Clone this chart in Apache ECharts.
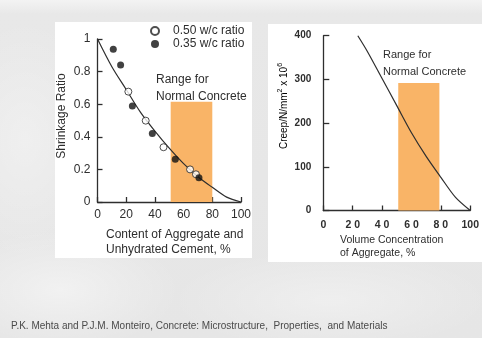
<!DOCTYPE html>
<html>
<head>
<meta charset="utf-8">
<script src="https://cdn.jsdelivr.net/npm/echarts@6/dist/echarts.min.js"></script>
<style>
  html, body { margin: 0; padding: 0; width: 482px; height: 338px; overflow: hidden; }
  body {
    background:
      radial-gradient(ellipse 120px 60px at 60px 290px, rgba(255,255,255,0.45), rgba(255,255,255,0)),
      radial-gradient(ellipse 160px 50px at 330px 300px, rgba(255,255,255,0.35), rgba(255,255,255,0)),
      radial-gradient(ellipse 80px 120px at 25px 140px, rgba(255,255,255,0.35), rgba(255,255,255,0)),
      linear-gradient(to bottom, #f3f3f3 0px, #e8e8e8 14px, #e6e6e6 100%);
  }
  #chart { width: 482px; height: 338px; }
</style>
</head>
<body>
<div id="chart"></div>
<script>
// Shrinkage of concrete vs. aggregate content
const shrinkCurveX = [0, 10, 20, 30, 40, 50, 60, 70, 80, 90, 100];
const shrinkCurveY = [1.0, 0.83, 0.69, 0.55, 0.435, 0.33, 0.235, 0.155, 0.09, 0.03, 0];
const wc050X = [21.5, 33.6, 46.0, 64.5, 68.6];
const wc050Y = [0.677, 0.499, 0.336, 0.20, 0.17];
const wc035X = [11.0, 16.1, 24.3, 38.2, 54.2, 70.7];
const wc035Y = [0.937, 0.84, 0.589, 0.421, 0.262, 0.149];
const shrinkRangeX = [51, 80];
const shrinkRangeTop = 0.615;
const shrinkXTicks = ['0', '20', '40', '60', '80', '100'];
const shrinkYTicks = ['0', '0.2', '0.4', '0.6', '0.8', '1'];

// Creep vs. volume concentration of aggregate
const creepCurveX = [23.5, 30, 40, 50, 60, 70, 80, 90, 100];
const creepCurveY = [400, 364, 302, 240, 178, 124, 76, 30, 0];
const creepRangeX = [51, 79];
const creepRangeTop = 292;
const creepXTicks = ['0', '2 0', '4 0', '6 0', '8 0', '100'];
const creepYTicks = ['0', '100', '200', '300', '400'];

const FONT = "'Liberation Sans', Arial, sans-serif";
const INK = '#2e2e2e';
const RANGE_COLOR = '#f9b467';

const zip = (xs, ys) => xs.map((x, i) => [x, ys[i]]);

const chart = echarts.init(document.getElementById('chart'), null, { renderer: 'canvas' });

const axisCommon = {
  axisLine: { show: true, lineStyle: { color: INK, width: 1.3 } },
  axisTick: { show: true, inside: true, length: 5, lineStyle: { color: INK, width: 1.3 } },
  splitLine: { show: false }
};

const option = {
  backgroundColor: 'transparent',
  animation: false,
  textStyle: { fontFamily: FONT },
  graphic: [
    { type: 'rect', z: -100, shape: { x: 55, y: 22, width: 197, height: 236 }, style: { fill: '#ffffff' } },
    { type: 'rect', z: -100, shape: { x: 268, y: 24, width: 214, height: 238 }, style: { fill: '#ffffff' } },
    { type: 'text', x: 156, y: 71, style: { text: 'Range for\nNormal Concrete', font: '12px ' + FONT, fill: INK, lineHeight: 17 } },
    { type: 'text', x: 383, y: 47, style: { text: 'Range for\nNormal Concrete', font: '11px ' + FONT, fill: INK, lineHeight: 16.5 } },
    { type: 'text', x: 106, y: 227, style: { text: 'Content of Aggregate and\nUnhydrated Cement, %', font: '12px ' + FONT, fill: INK, lineHeight: 15 } },
    { type: 'text', x: 340, y: 233, style: { text: 'Volume Concentration\nof Aggregate, %', font: '10.5px ' + FONT, fill: INK, lineHeight: 13.5 } },
    { type: 'text', x: 62, y: 116, rotation: Math.PI / 2,
      style: { text: 'Shrinkage Ratio', font: '12px ' + FONT, fill: INK, align: 'center', verticalAlign: 'middle' } },
    { type: 'text', x: 283, y: 106, rotation: Math.PI / 2,
      style: {
        text: '{a|Creep/N/mm}{s|2}{a| x 10}{s|6}',
        align: 'center', verticalAlign: 'middle',
        rich: {
          a: { fontSize: 10, fontFamily: FONT, color: INK, lineHeight: 13, verticalAlign: 'bottom' },
          s: { fontSize: 7, fontFamily: FONT, color: INK, lineHeight: 13, verticalAlign: 'top' }
        }
      } },
    { type: 'text', x: 11, y: 321,
      style: { text: 'P.K. Mehta and P.J.M. Monteiro, Concrete: Microstructure,  Properties,  and Materials',
               font: '10px ' + FONT, fill: '#4a4a4a' } }
  ],
  legend: {
    left: 145, top: 20, orient: 'vertical', itemGap: 1,
    itemWidth: 8, itemHeight: 8,
    textStyle: { fontSize: 12, color: INK, fontFamily: FONT, padding: [0, 0, 0, 9] },
    data: ['0.50 w/c ratio', '0.35 w/c ratio']
  },
  grid: [
    { left: 97.5, top: 39, width: 143.5, height: 163 },
    { left: 323.3, top: 35.7, width: 153.5, height: 174.8 }
  ],
  xAxis: [
    Object.assign({}, axisCommon, {
      gridIndex: 0, type: 'value', min: 0, max: 100, interval: 20,
      axisLabel: { margin: 7, fontSize: 12, color: INK, fontFamily: FONT,
                   formatter: (v) => shrinkXTicks[Math.round(v / 20)] }
    }),
    Object.assign({}, axisCommon, {
      gridIndex: 1, type: 'value', min: 0, max: 100, interval: 20,
      axisLabel: { margin: 9, fontSize: 10.5, fontWeight: 'bold', color: INK, fontFamily: FONT,
                   formatter: (v) => creepXTicks[Math.round(v / 20)] }
    })
  ],
  yAxis: [
    Object.assign({}, axisCommon, {
      gridIndex: 0, type: 'value', min: 0, max: 1, interval: 0.2,
      axisLabel: { margin: 7, fontSize: 12, color: INK, fontFamily: FONT,
                   formatter: (v) => shrinkYTicks[Math.round(v / 0.2)] }
    }),
    Object.assign({}, axisCommon, {
      gridIndex: 1, type: 'value', min: 0, max: 400, interval: 100,
      axisTick: { show: true, inside: true, length: 6, lineStyle: { color: INK, width: 1.3 } },
      axisLabel: { margin: 12, fontSize: 10, fontWeight: 'bold', color: INK, fontFamily: FONT,
                   formatter: (v) => creepYTicks[Math.round(v / 100)] }
    })
  ],
  series: [
    {
      type: 'line', xAxisIndex: 0, yAxisIndex: 0, data: [], z: 1, silent: true,
      markArea: { silent: true, itemStyle: { color: RANGE_COLOR, opacity: 1 },
        data: [[{ coord: [shrinkRangeX[0], 0] }, { coord: [shrinkRangeX[1], shrinkRangeTop] }]] }
    },
    {
      type: 'line', xAxisIndex: 0, yAxisIndex: 0, z: 3,
      data: zip(shrinkCurveX, shrinkCurveY), smooth: 0.3, showSymbol: false,
      lineStyle: { color: INK, width: 1.2 }
    },
    {
      name: '0.50 w/c ratio', type: 'scatter', xAxisIndex: 0, yAxisIndex: 0, z: 4,
      data: zip(wc050X, wc050Y), symbol: 'circle', symbolSize: 7,
      itemStyle: { color: '#ffffff', borderColor: '#222', borderWidth: 1 }
    },
    {
      name: '0.35 w/c ratio', type: 'scatter', xAxisIndex: 0, yAxisIndex: 0, z: 4,
      data: zip(wc035X, wc035Y), symbol: 'circle', symbolSize: 7,
      itemStyle: { color: '#111111' }
    },
    {
      type: 'line', xAxisIndex: 1, yAxisIndex: 1, data: [], z: 1, silent: true,
      markArea: { silent: true, itemStyle: { color: RANGE_COLOR, opacity: 1 },
        data: [[{ coord: [creepRangeX[0], 0] }, { coord: [creepRangeX[1], creepRangeTop] }]] }
    },
    {
      type: 'line', xAxisIndex: 1, yAxisIndex: 1, z: 3,
      data: zip(creepCurveX, creepCurveY), smooth: 0.3, showSymbol: false,
      lineStyle: { color: INK, width: 1.2 }
    }
  ]
};

chart.setOption(option);
</script>
</body>
</html>
